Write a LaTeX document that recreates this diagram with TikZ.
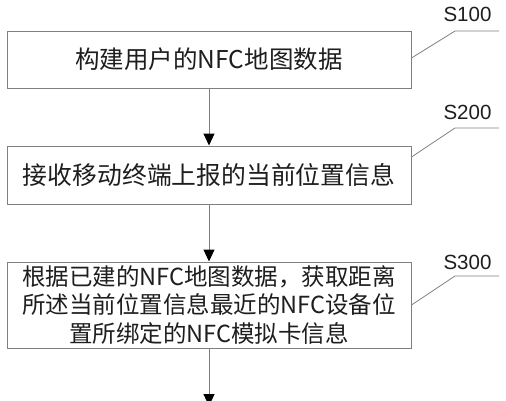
\documentclass[tikz,border=0pt]{standalone}
\usepackage{fontspec}
\setmainfont{Liberation Sans}
\newfontfamily\cjk{Noto Sans CJK SC}
\usetikzlibrary{arrows.meta}
\definecolor{linegray}{RGB}{128,128,128}
\definecolor{textdark}{RGB}{30,30,30}
\begin{document}
\begin{tikzpicture}[x=1pt,y=-1pt,
  stepbox/.style={draw=linegray, line width=1pt, minimum width=404pt, inner sep=0pt, text=textdark},
  flow/.style={draw=linegray, line width=1pt, -{Triangle[width=11pt,length=12pt,color=black]}},
  leader/.style={draw=linegray, line width=0.8pt},
  steplabel/.style={font=\fontsize{20.5}{23}\selectfont, text=textdark}]
\useasboundingbox (0,0) rectangle (506,400);
\clip (0,0) rectangle (506,400);
\fill[white] (0,0) rectangle (506,400);
\node[stepbox, minimum height=57pt, font=\cjk\fontsize{24.5}{28}\selectfont] (b1) at (209,59.5) {构建用户的NFC地图数据};
\node[stepbox, minimum height=58pt, font=\cjk\fontsize{24.8}{28}\selectfont] (b2) at (209,175) {接收移动终端上报的当前位置信息};
\node[stepbox, minimum height=86pt, align=center, font=\cjk\fontsize{23.5}{28.5}\selectfont] (b3) at (209,305) {根据已建的NFC地图数据，获取距离\\所述当前位置信息最近的NFC设备位\\置所绑定的NFC模拟卡信息};
\coordinate (end) at (209,406);
\draw[flow] (b1.south) -- (b2.north);
\draw[flow] (b2.south) -- (b3.north);
\draw[flow] (b3.south) -- (end);
\node[steplabel] (l1) at (467.5,14.5) {S100};
\node[steplabel] (l2) at (467.5,112.5) {S200};
\node[steplabel] (l3) at (467.5,262.5) {S300};
\coordinate (k1) at (455,31);
\coordinate (e1) at (499,31);
\coordinate (k2) at (455,128);
\coordinate (e2) at (499,128);
\coordinate (k3) at (455,276);
\coordinate (e3) at (499,276);
\draw[leader] ([yshift=1.5pt]b1.east) -- (k1) -- (e1);
\draw[leader] ([yshift=18pt]b2.east) -- (k2) -- (e2);
\draw[leader] (b3.east) -- (k3) -- (e3);
\end{tikzpicture}
\end{document}
